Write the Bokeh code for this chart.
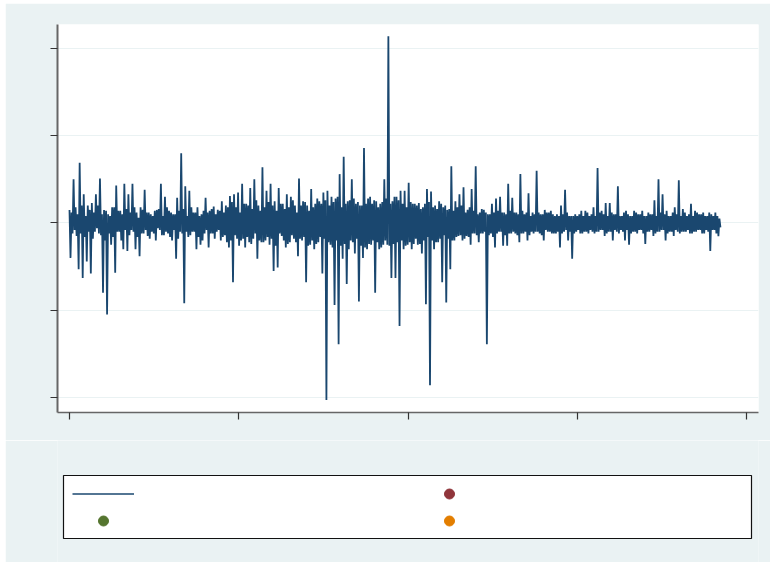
from bokeh.plotting import figure
from bokeh.layouts import column
from bokeh.models import Range1d, FixedTicker, Legend, LegendItem, BoxAnnotation
from bokeh.embed import file_html
from bokeh.resources import INLINE

# For each block of periods, its high and its low value
block_high = [
    0.15, 0.12, 0.50, 0.18, 0.10, 0.69, 0.20, 0.33, 0.08,
    0.20, 0.15, 0.23, 0.12, 0.33, 0.20, 0.51, 0.10, 0.15, 0.14,
    0.10, 0.08, 0.18, 0.18, 0.43, 0.14, 0.14, 0.10, 0.45, 0.16,
    0.33, 0.12, 0.45, 0.18, 0.12, 0.06, 0.18, 0.15, 0.38, 0.12,
    0.12, 0.10, 0.08, 0.14, 0.15, 0.16, 0.45, 0.08, 0.30, 0.18,
    0.14, 0.12, 0.10, 0.10, 0.29, 0.14, 0.80, 0.16, 0.42, 0.08,
    0.37, 0.18, 0.12, 0.12, 0.18, 0.08, 0.10, 0.14, 0.29, 0.12,
    0.14, 0.16, 0.19, 0.10, 0.15, 0.14, 0.25, 0.12, 0.20, 0.18,
    0.31, 0.24, 0.33, 0.18, 0.35, 0.12, 0.45, 0.22, 0.22, 0.20,
    0.40, 0.16, 0.50, 0.26, 0.20, 0.14, 0.64, 0.18, 0.37, 0.24,
    0.45, 0.20, 0.25, 0.14, 0.40, 0.22, 0.22, 0.16, 0.33, 0.18,
    0.30, 0.26, 0.20, 0.12, 0.51, 0.20, 0.25, 0.24, 0.20, 0.14,
    0.39, 0.18, 0.22, 0.28, 0.25, 0.22, 0.35, 0.26, 0.37, 0.20,
    0.30, 0.24, 0.28, 0.30, 0.56, 0.18, 0.76, 0.22, 0.25, 0.26,
    0.50, 0.28, 0.22, 0.24, 0.20, 0.20, 0.86, 0.22, 0.28, 0.30,
    0.22, 0.26, 0.25, 0.18, 0.22, 0.24, 0.50, 0.28, 2.14, 0.22,
    0.25, 0.30, 0.30, 0.26, 0.37, 0.22, 0.37, 0.18, 0.46, 0.24, 0.22,
    0.22, 0.20, 0.23, 0.16, 0.18, 0.22, 0.39, 0.24, 0.36, 0.18,
    0.20, 0.16, 0.25, 0.22, 0.18, 0.20, 0.15, 0.16, 0.65, 0.14,
    0.25, 0.18, 0.33, 0.20, 0.41, 0.12, 0.15, 0.18, 0.39, 0.14,
    0.65, 0.10, 0.12, 0.16, 0.15, 0.12, 0.10, 0.10, 0.22, 0.12,
    0.28, 0.14, 0.30, 0.12, 0.12, 0.10, 0.45, 0.14, 0.29, 0.12,
    0.12, 0.10, 0.56, 0.14, 0.10, 0.12, 0.34, 0.08, 0.12, 0.10,
    0.60, 0.12, 0.10, 0.10, 0.15, 0.12, 0.12, 0.14, 0.10, 0.08,
    0.10, 0.08, 0.20, 0.10, 0.38, 0.12, 0.08, 0.08, 0.08, 0.10,
    0.08, 0.10, 0.14, 0.08, 0.14, 0.12, 0.08, 0.10, 0.18, 0.08,
    0.63, 0.12, 0.14, 0.10, 0.23, 0.08, 0.23, 0.12, 0.10, 0.10,
    0.42, 0.08, 0.08, 0.12, 0.14, 0.10, 0.08, 0.08, 0.14, 0.12,
    0.10, 0.10, 0.14, 0.08, 0.08, 0.12, 0.10, 0.10, 0.26, 0.08,
    0.50, 0.12, 0.33, 0.10, 0.14, 0.08, 0.08, 0.12, 0.18, 0.10,
    0.49, 0.08, 0.16, 0.12, 0.08, 0.10, 0.22, 0.08, 0.14, 0.12,
    0.10, 0.10, 0.12, 0.08, 0.08, 0.12, 0.10, 0.08, 0.12, 0.08, 0.05,
]
block_low = [
    -0.40, -0.12, -0.08, -0.15, -0.53, -0.12, -0.63, -0.16, -0.44,
    -0.10, -0.58, -0.18, -0.10, -0.06, -0.12, -0.14, -0.80, -0.20, -1.05,
    -0.12, -0.25, -0.16, -0.57, -0.10, -0.10, -0.20, -0.30, -0.08, -0.32,
    -0.14, -0.08, -0.10, -0.30, -0.16, -0.38, -0.12, -0.12, -0.08, -0.15,
    -0.18, -0.10, -0.12, -0.20, -0.06, -0.08, -0.14, -0.14, -0.10, -0.12,
    -0.16, -0.20, -0.08, -0.41, -0.18, -0.10, -0.12, -0.92, -0.10, -0.16,
    -0.14, -0.10, -0.10, -0.30, -0.16, -0.25, -0.20, -0.12, -0.08, -0.28,
    -0.12, -0.12, -0.18, -0.10, -0.08, -0.20, -0.16, -0.14, -0.22, -0.28,
    -0.20, -0.68, -0.14, -0.18, -0.26, -0.20, -0.18, -0.28, -0.16, -0.22,
    -0.24, -0.18, -0.12, -0.41, -0.20, -0.22, -0.22, -0.20, -0.16, -0.25,
    -0.18, -0.55, -0.26, -0.51, -0.12, -0.15, -0.20, -0.28, -0.24, -0.22,
    -0.14, -0.18, -0.22, -0.38, -0.18, -0.20, -0.16, -0.68, -0.26, -0.25,
    -0.20, -0.30, -0.24, -0.22, -0.16, -0.58, -0.18, -2.03, -0.22, -0.25,
    -0.28, -0.94, -0.20, -1.39, -0.26, -0.41, -0.24, -0.70, -0.30, -0.20,
    -0.22, -0.35, -0.18, -0.90, -0.26, -0.40, -0.28, -0.30, -0.24, -0.25,
    -0.20, -0.80, -0.22, -0.30, -0.28, -0.25, -0.20, -0.25, -0.26, -0.63,
    -0.24, -0.63, -0.22, -1.18, -0.20, -0.30, -0.26, -0.25, -0.22, -0.30, -0.24,
    -0.18, -0.25, -0.24, -0.35, -0.20, -0.93, -0.16, -1.86, -0.20, -0.30,
    -0.22, -0.22, -0.18, -0.68, -0.14, -0.91, -0.18, -0.53, -0.20, -0.20,
    -0.16, -0.15, -0.14, -0.20, -0.18, -0.15, -0.16, -0.25, -0.12, -0.12,
    -0.14, -0.22, -0.12, -0.12, -0.10, -1.39, -0.14, -0.12, -0.16, -0.28,
    -0.12, -0.10, -0.10, -0.26, -0.14, -0.26, -0.12, -0.12, -0.10, -0.12,
    -0.14, -0.22, -0.12, -0.12, -0.10, -0.20, -0.14, -0.10, -0.12, -0.10,
    -0.10, -0.12, -0.14, -0.20, -0.08, -0.10, -0.10, -0.12, -0.12, -0.12,
    -0.10, -0.28, -0.12, -0.10, -0.08, -0.20, -0.10, -0.41, -0.12, -0.10,
    -0.08, -0.12, -0.12, -0.10, -0.10, -0.12, -0.08, -0.10, -0.12, -0.10,
    -0.10, -0.08, -0.08, -0.15, -0.12, -0.10, -0.10, -0.20, -0.08, -0.10,
    -0.12, -0.08, -0.10, -0.20, -0.08, -0.25, -0.12, -0.10, -0.10, -0.12,
    -0.08, -0.08, -0.12, -0.24, -0.10, -0.10, -0.08, -0.15, -0.12, -0.10,
    -0.10, -0.08, -0.08, -0.20, -0.12, -0.10, -0.10, -0.15, -0.08, -0.10,
    -0.12, -0.10, -0.10, -0.10, -0.08, -0.12, -0.12, -0.10, -0.10, -0.08,
    -0.08, -0.12, -0.12, -0.08, -0.10, -0.32, -0.08, -0.08, -0.12, -0.15, -0.05,
]
period_step = 12

periods, values = [], []
for i, (hi, lo) in enumerate(zip(block_high, block_low)):
    periods.append(i * period_step)
    values.append(hi)
    periods.append(i * period_step + period_step // 2)
    values.append(lo)

x_ticks = [0, 1000, 2000, 3000, 4000]
y_ticks = [-2, -1, 0, 1, 2]

# Series shown only in the legend (they have no observations in range)
NAN = float("nan")
legend_line_x, legend_line_y = [0], [NAN]
marker_red_x, marker_red_y = [0], [NAN]
marker_green_x, marker_green_y = [0], [NAN]
marker_orange_x, marker_orange_y = [0], [NAN]

BG = "#EAF2F3"
NAVY = "#1a476f"

p = figure(width=765, height=437, output_backend="svg", toolbar_location=None,
           x_range=Range1d(-70.9, 4070.9), y_range=Range1d(-2.172, 2.275),
           min_border_left=52, min_border_right=12, min_border_top=21,
           min_border_bottom=28, background_fill_color="white",
           border_fill_color=BG, outline_line_color=None)

for ax in (p.xaxis[0], p.yaxis[0]):
    ax.minor_tick_line_color = None
    ax.major_tick_in = 0
    ax.major_tick_out = 7
    ax.major_tick_line_color = "#333333"
    ax.major_tick_line_width = 1.2
    ax.axis_line_color = "#666666"
    ax.major_label_standoff = 0
p.xaxis.ticker = FixedTicker(ticks=x_ticks)
p.yaxis.ticker = FixedTicker(ticks=y_ticks)
p.xaxis.major_label_overrides = {t: "" for t in x_ticks}
p.yaxis.major_label_overrides = {t: "" for t in y_ticks}
p.yaxis.axis_line_width = 2
p.xaxis.axis_line_width = 1.5
p.xgrid.visible = False
p.ygrid.grid_line_color = BG
p.ygrid.grid_line_width = 1.2

p.line(periods, values, color=NAVY, line_width=1.8)

# Legend panel: its frame is aligned with the plot frame above
p2 = figure(width=765, height=122, output_backend="svg", toolbar_location=None,
            x_range=Range1d(57, 758), y_range=Range1d(562, 440),
            x_axis_type=None, y_axis_type=None,
            min_border_left=0, min_border_right=0, min_border_top=0,
            min_border_bottom=0, background_fill_color=BG,
            border_fill_color=BG, outline_line_color=None)
r_line = p2.line(legend_line_x, legend_line_y, color=NAVY, line_width=1.6)
r_red = p2.scatter(marker_red_x, marker_red_y, size=10, color="#90353b")
r_green = p2.scatter(marker_green_x, marker_green_y, size=10, color="#55752f")
r_orange = p2.scatter(marker_orange_x, marker_orange_y, size=10, color="#e37e00")

p2.add_layout(BoxAnnotation(left=63, right=751, top=475, bottom=538,
                            fill_color="white", fill_alpha=1.0,
                            line_color="#111111", line_width=1.2,
                            line_alpha=1.0))

legend_style = dict(orientation="vertical", glyph_width=62, glyph_height=25,
                    label_width=0, label_height=25, label_standoff=0,
                    label_text_font_size="9px", spacing=2, padding=0,
                    margin=0, border_line_color=None,
                    background_fill_alpha=0.0)
legend_a = Legend(items=[LegendItem(label="", renderers=[r_line]),
                         LegendItem(label="", renderers=[r_green])],
                  location=(15, 29), **legend_style)
legend_b = Legend(items=[LegendItem(label="", renderers=[r_red]),
                         LegendItem(label="", renderers=[r_orange])],
                  location=(361, 29), **legend_style)
p2.add_layout(legend_a, "center")
p2.add_layout(legend_b, "center")

layout = column(p, p2, spacing=0, margin=(3, 0, 0, 5))
open("out.html", "w").write(file_html(layout, INLINE))
